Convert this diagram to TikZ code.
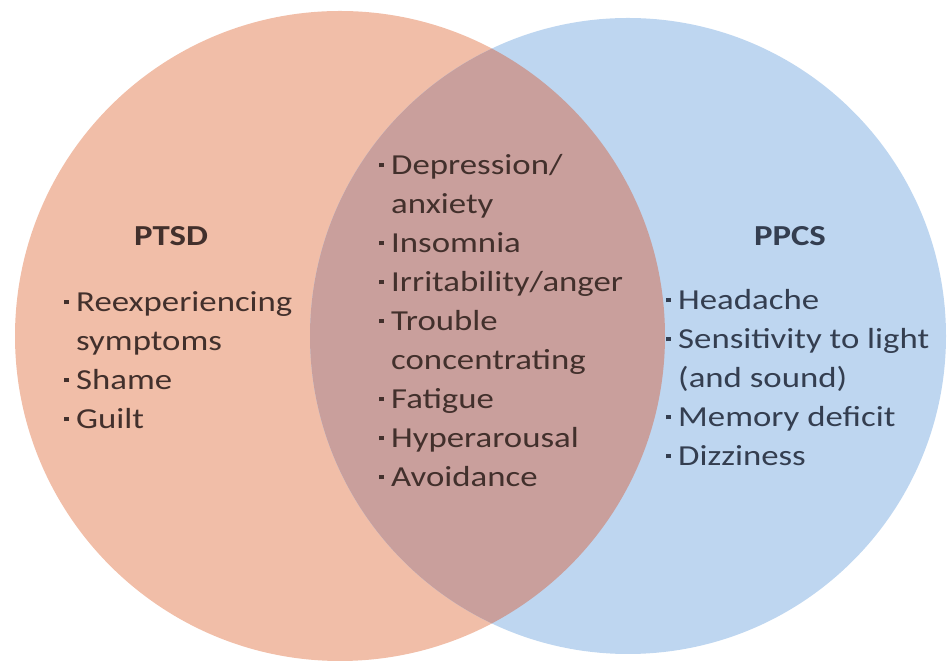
\documentclass[tikz,border=0pt]{standalone}
\usepackage{fontspec}
\setmainfont{Carlito}[FakeStretch=1.2]
\usepackage{xcolor}
\usepackage{tikz}
\usetikzlibrary{positioning}
\definecolor{ptsdfill}{RGB}{241,190,168}
\definecolor{ppcsfill}{RGB}{190,214,240}
\definecolor{bothfill}{RGB}{201,159,156}
\definecolor{ptsdtext}{RGB}{66,48,44}
\definecolor{ppcstext}{RGB}{52,62,80}
\newcommand{\blt}{\makebox[12pt][l]{\raisebox{7.5pt}{\rule{4.5pt}{4.5pt}}}}
\newcommand{\listfont}{\fontsize{29}{39}\selectfont}

\begin{document}
\begin{tikzpicture}[x=1pt, y=1pt,
          listnode/.style={anchor=base west, inner sep=0pt, font=\listfont},
          headnode/.style={inner sep=0pt, font=\listfont\bfseries}]
          \useasboundingbox (0,0) rectangle (951,663);
          % the two sets
          \fill[ptsdfill] (340,327) circle (325);
          \fill[ppcsfill] (628,327) circle (318);
          \begin{scope}
            \clip (340,327) circle (325);
            \fill[bothfill] (628,327) circle (318);
          \end{scope}
          % headings
          \node[headnode, text=ptsdtext] (ptsd) at (171,427) {PTSD};
          \node[headnode, text=ppcstext] (ppcs) at (790,427) {PPCS};
          % lists
          \node[listnode, text=ptsdtext] (ptsdlist) at (64,351) {%
            \begin{tabular}[t]{@{}l@{}}
            \blt Reexperiencing\\
            \hspace*{12pt}symptoms\\
            \blt Shame\\
            \blt Guilt
            \end{tabular}};
          \node[listnode, text=ptsdtext] (bothlist) at (379,488) {%
            \begin{tabular}[t]{@{}l@{}}
            \blt Depression/\\
            \hspace*{12pt}anxiety\\
            \blt Insomnia\\
            \blt Irritability/anger\\
            \blt Trouble\\
            \hspace*{12pt}concentrating\\
            \blt Fatigue\\
            \blt Hyperarousal\\
            \blt Avoidance
            \end{tabular}};
          \node[listnode, text=ppcstext] (ppcslist) at (666,353) {%
            \begin{tabular}[t]{@{}l@{}}
            \blt Headache\\
            \blt Sensitivity to light\\
            \hspace*{12pt}(and sound)\\
            \blt Memory deficit\\
            \blt Dizziness
            \end{tabular}};
\end{tikzpicture}
\end{document}
